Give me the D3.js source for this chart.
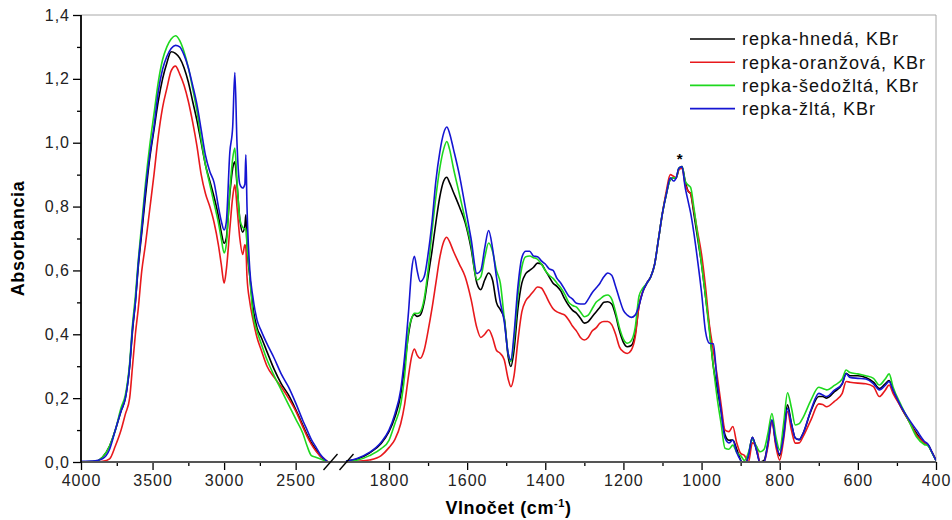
<!DOCTYPE html>
<html>
<head>
<meta charset="utf-8">
<script src="https://cdn.jsdelivr.net/npm/d3@7"></script>
<style>
  body { margin: 0; background: #fff; }
  svg { font-family: "Liberation Sans", Arial, sans-serif; }
</style>
</head>
<body>
<script>
// wavenumbers (cm-1) of the two segments of the broken axis
const leftWn = [4000, 3900, 3850, 3800, 3760, 3720, 3690, 3660, 3640, 3620, 3600, 3575, 3550, 3520, 3490, 3460, 3430, 3400, 3370, 3340,
    3310, 3280, 3250, 3220, 3190, 3160, 3130, 3100, 3070, 3040, 3020, 3000, 2985, 2960, 2940, 2925, 2910, 2890, 2870, 2855,
    2848, 2840, 2820, 2800, 2770, 2740, 2700, 2650, 2600, 2550, 2500, 2450, 2420, 2390, 2360, 2330, 2300, 2270, 2260];

const rightWn = [1910, 1880, 1850, 1820, 1800, 1785, 1770, 1760, 1750, 1742,
    1735, 1728, 1720, 1710, 1700, 1690, 1680, 1670, 1660, 1652,
    1645, 1635, 1620, 1605, 1590, 1575, 1565, 1555, 1545, 1535,
    1525, 1515, 1505, 1495, 1488, 1480, 1470, 1460, 1450, 1440,
    1430, 1420, 1410, 1400, 1390, 1380, 1370, 1360, 1350, 1340,
    1330, 1320, 1310, 1300, 1290, 1280, 1270, 1260, 1250, 1240,
    1230, 1220, 1210, 1200, 1190, 1180, 1170, 1160, 1150, 1140,
    1130, 1120, 1110, 1100, 1090, 1080, 1072, 1065, 1058, 1050,
    1042, 1035, 1028, 1020, 1010, 1000, 990, 980, 970, 960,
    950, 940, 930, 920, 910, 900, 890, 880, 870, 860,
    850, 840, 830, 820, 810, 800, 790, 780, 770, 760,
    750, 740, 720, 700, 690, 680, 660, 640, 630, 620,
    600, 580, 560, 545, 530, 520, 510, 490, 470, 450,
    430, 420, 410, 400];

// absorbance, repka-hnedá
const hnedaLeft = [0, 0.002, 0.015, 0.05, 0.1, 0.16, 0.2, 0.3, 0.41, 0.5, 0.61, 0.72, 0.83, 0.95, 1.04, 1.13, 1.2, 1.25, 1.285, 1.28,
    1.265, 1.235, 1.19, 1.13, 1.07, 1.0, 0.93, 0.88, 0.83, 0.77, 0.72, 0.685, 0.7, 0.84, 0.92, 0.94, 0.87, 0.76, 0.72, 0.74,
    0.774, 0.68, 0.58, 0.49, 0.42, 0.39, 0.345, 0.29, 0.245, 0.21, 0.165, 0.115, 0.085, 0.06, 0.04, 0.02, 0.008, 0, 0];
const hnedaRight = [0.003, 0.01, 0.028, 0.058, 0.095, 0.14, 0.21, 0.3, 0.4, 0.45,
    0.462, 0.456, 0.46, 0.5, 0.58, 0.66, 0.75, 0.83, 0.88, 0.892,
    0.875, 0.845, 0.8, 0.75, 0.67, 0.56, 0.54, 0.57, 0.592, 0.57,
    0.5, 0.477, 0.45, 0.33, 0.299, 0.35, 0.48, 0.56, 0.59, 0.6,
    0.61, 0.623, 0.62, 0.6, 0.58, 0.56, 0.55, 0.535, 0.51, 0.49,
    0.475, 0.466, 0.45, 0.435, 0.44, 0.455, 0.47, 0.485, 0.5, 0.502,
    0.495, 0.46, 0.41, 0.375, 0.361, 0.365, 0.4, 0.49, 0.535, 0.56,
    0.58, 0.62, 0.7, 0.78, 0.84, 0.885, 0.89, 0.89, 0.92, 0.925,
    0.88, 0.85, 0.84, 0.78, 0.7, 0.62, 0.52, 0.42, 0.3, 0.23,
    0.16, 0.085, 0.068, 0.069, 0.04, 0.006, -0.01, 0.02, 0.077, 0.04,
    0.0, 0.005, 0.06, 0.13, 0.06, 0.02, 0.09, 0.179, 0.12, 0.075,
    0.07, 0.09, 0.16, 0.205, 0.205, 0.2, 0.22, 0.245, 0.278, 0.27,
    0.27, 0.265, 0.25, 0.23, 0.245, 0.255, 0.225, 0.173, 0.13, 0.09,
    0.06, 0.053, 0.03, 0.005];

// repka-oranžová
const oranzovaLeft = [0, 0, 0.002, 0.01, 0.05, 0.1, 0.15, 0.2, 0.3, 0.4, 0.48, 0.6, 0.68, 0.79, 0.9, 1.02, 1.11, 1.17, 1.225, 1.24,
    1.215, 1.18, 1.13, 1.065, 0.99, 0.9, 0.84, 0.8, 0.75, 0.68, 0.62, 0.56, 0.6, 0.73, 0.83, 0.868, 0.8, 0.7, 0.65, 0.68,
    0.67, 0.58, 0.5, 0.45, 0.39, 0.35, 0.3, 0.265, 0.235, 0.2, 0.16, 0.11, 0.08, 0.055, 0.035, 0.02, 0.01, 0, 0];
const oranzovaRight = [0, 0.002, 0.006, 0.02, 0.045, 0.07, 0.12, 0.18, 0.27, 0.33,
    0.354, 0.335, 0.325, 0.35, 0.41, 0.48, 0.56, 0.64, 0.69, 0.704,
    0.69, 0.66, 0.62, 0.58, 0.51, 0.42, 0.39, 0.4, 0.414, 0.39,
    0.35, 0.34, 0.32, 0.26, 0.236, 0.27, 0.38, 0.47, 0.505, 0.52,
    0.535, 0.548, 0.545, 0.525, 0.5, 0.48, 0.47, 0.465, 0.46, 0.445,
    0.425, 0.41, 0.39, 0.382, 0.39, 0.41, 0.42, 0.435, 0.44, 0.44,
    0.43, 0.4, 0.36, 0.345, 0.34, 0.35, 0.39, 0.49, 0.535, 0.56,
    0.58, 0.62, 0.7, 0.78, 0.85, 0.9, 0.895, 0.89, 0.915, 0.92,
    0.87, 0.85, 0.84, 0.79, 0.72, 0.65, 0.55, 0.43, 0.35, 0.27,
    0.18, 0.1, 0.095, 0.111, 0.06, 0.027, 0.02, 0.0, 0.06, 0.05,
    -0.005, 0.0, 0.05, 0.126, 0.05, 0.006, 0.07, 0.158, 0.1, 0.059,
    0.06, 0.08, 0.132, 0.182, 0.18, 0.173, 0.19, 0.215, 0.252, 0.25,
    0.247, 0.245, 0.236, 0.205, 0.225, 0.241, 0.215, 0.173, 0.13, 0.085,
    0.06, 0.052, 0.03, 0.005];

// repka-šedožltá
const sedozltaLeft = [0, 0.002, 0.015, 0.05, 0.1, 0.17, 0.21, 0.31, 0.43, 0.52, 0.63, 0.75, 0.87, 0.99, 1.09, 1.19, 1.26, 1.3, 1.325, 1.335,
    1.32, 1.285, 1.235, 1.17, 1.1, 1.01, 0.93, 0.87, 0.81, 0.75, 0.7, 0.655, 0.68, 0.85, 0.95, 0.983, 0.88, 0.76, 0.735, 0.73,
    0.73, 0.68, 0.58, 0.47, 0.41, 0.37, 0.32, 0.27, 0.225, 0.18, 0.135, 0.09, 0.05, 0.02, 0.015, 0.01, 0.005, 0, 0];
const sedozltaRight = [0.002, 0.006, 0.02, 0.042, 0.068, 0.12, 0.18, 0.27, 0.41, 0.45,
    0.466, 0.465, 0.47, 0.51, 0.6, 0.72, 0.83, 0.92, 0.98, 1.004,
    0.98, 0.92, 0.84, 0.76, 0.68, 0.57, 0.58, 0.64, 0.686, 0.66,
    0.6, 0.56, 0.45, 0.34, 0.315, 0.38, 0.52, 0.61, 0.643, 0.645,
    0.64, 0.635, 0.62, 0.6, 0.585, 0.575, 0.56, 0.545, 0.525, 0.5,
    0.49, 0.485, 0.47, 0.455, 0.46, 0.48, 0.5, 0.51, 0.52, 0.523,
    0.51, 0.47, 0.42, 0.385, 0.372, 0.38, 0.42, 0.52, 0.545, 0.56,
    0.58, 0.62, 0.7, 0.78, 0.84, 0.885, 0.89, 0.89, 0.92, 0.925,
    0.88, 0.868, 0.86, 0.8, 0.71, 0.62, 0.52, 0.41, 0.3, 0.2,
    0.12, 0.043, 0.04, 0.053, 0.03, 0.02, 0.005, 0.03, 0.07, 0.05,
    0.032, 0.04, 0.09, 0.152, 0.08, 0.038, 0.12, 0.217, 0.17, 0.116,
    0.12, 0.14, 0.194, 0.234, 0.23, 0.226, 0.24, 0.26, 0.288, 0.28,
    0.276, 0.27, 0.262, 0.241, 0.26, 0.276, 0.235, 0.18, 0.13, 0.079,
    0.055, 0.05, 0.028, 0.005];

// repka-žltá
const zltaLeft = [0.002, 0.004, 0.01, 0.04, 0.1, 0.16, 0.2, 0.3, 0.42, 0.5, 0.62, 0.73, 0.85, 0.96, 1.05, 1.16, 1.23, 1.27, 1.295, 1.305,
    1.3, 1.275, 1.235, 1.18, 1.12, 1.04, 0.96, 0.91, 0.875, 0.8, 0.755, 0.727, 0.75, 0.97, 1.05, 1.22, 1.0, 0.87, 0.858, 0.87,
    0.962, 0.8, 0.6, 0.52, 0.445, 0.41, 0.37, 0.325, 0.275, 0.235, 0.185, 0.13, 0.1, 0.07, 0.048, 0.025, 0.01, 0, 0];
const zltaRight = [0.003, 0.012, 0.03, 0.062, 0.1, 0.15, 0.226, 0.33, 0.47, 0.6,
    0.644, 0.6, 0.565, 0.58, 0.65, 0.75, 0.88, 0.97, 1.03, 1.049,
    1.03, 0.98, 0.9, 0.8, 0.7, 0.59, 0.6, 0.67, 0.725, 0.67,
    0.58, 0.5, 0.44, 0.34, 0.32, 0.4, 0.55, 0.64, 0.66, 0.66,
    0.645, 0.643, 0.63, 0.62, 0.605, 0.6, 0.575, 0.56, 0.54, 0.52,
    0.51, 0.497, 0.495, 0.495, 0.51, 0.53, 0.545, 0.56, 0.58, 0.592,
    0.585, 0.55, 0.51, 0.475, 0.46, 0.453, 0.46, 0.49, 0.535, 0.56,
    0.58, 0.62, 0.7, 0.78, 0.84, 0.89, 0.88, 0.89, 0.92, 0.925,
    0.86, 0.82, 0.78, 0.72, 0.63, 0.53, 0.41, 0.372, 0.37, 0.25,
    0.16, 0.075, 0.06, 0.068, 0.03, 0.005, -0.01, 0.02, 0.077, 0.04,
    -0.005, 0.0, 0.06, 0.132, 0.06, 0.025, 0.08, 0.168, 0.12, 0.075,
    0.07, 0.09, 0.163, 0.215, 0.21, 0.205, 0.225, 0.245, 0.276, 0.265,
    0.262, 0.26, 0.245, 0.226, 0.24, 0.252, 0.225, 0.175, 0.135, 0.1,
    0.065, 0.055, 0.03, 0.005];

const seriesNames = ['repka-hnedá, KBr', 'repka-oranžová, KBr', 'repka-šedožltá, KBr', 'repka-žltá, KBr'];
const seriesColors = ['#000000', '#e8191c', '#1ed81e', '#1515d2'];

const yTicks = [0, 0.2, 0.4, 0.6, 0.8, 1.0, 1.2, 1.4];
const yMinorTicks = [0.1, 0.3, 0.5, 0.7, 0.9, 1.1, 1.3];
const leftTicks = [4000, 3500, 3000, 2500];
const leftMinorTicks = [3750, 3250, 2750];
const rightTicks = [1800, 1600, 1400, 1200, 1000, 800, 600, 400];
const rightMinorTicks = [1700, 1500, 1300, 1100, 900, 700, 500];

const series = seriesNames.map((name, i) => ({
    name: name,
    color: seriesColors[i],
    left: leftWn.map((w, j) => ({ w: w, a: [hnedaLeft, oranzovaLeft, sedozltaLeft, zltaLeft][i][j] })),
    right: rightWn.map((w, j) => ({ w: w, a: [hnedaRight, oranzovaRight, sedozltaRight, zltaRight][i][j] }))
}));

const W = 952, H = 520;
const margin = { top: 15, right: 16, bottom: 58, left: 81 };
const width = W - margin.left - margin.right;
const height = H - margin.top - margin.bottom;

// broken x axis: two linear scales side by side
const xLeft = d3.scaleLinear().domain([4000, 2260]).range([0, 249]);
const xRight = d3.scaleLinear().domain([1910, 400]).range([265, width]);
const y = d3.scaleLinear().domain([0, 1.4]).range([height, 0]);

const fmt = d => d.toFixed(1).replace('.', ',');

const svg = d3.select('body').append('svg')
    .attr('width', W)
    .attr('height', H);

svg.append('defs').append('clipPath')
    .attr('id', 'plot-clip')
    .append('rect')
    .attr('width', width)
    .attr('height', height);

const g = svg.append('g')
    .attr('transform', `translate(${margin.left},${margin.top})`);

// frame (top + right in grey)
g.append('path')
    .attr('d', `M0,0H${width}V${height}`)
    .attr('fill', 'none')
    .attr('stroke', '#a8a8a8')
    .attr('stroke-width', 1);

// curves
const lineFor = (x) => d3.line()
    .x(d => x(d.w))
    .y(d => y(d.a))
    .curve(d3.curveMonotoneX);

const curves = g.append('g').attr('clip-path', 'url(#plot-clip)');

series.forEach(s => {
    curves.append('path')
        .datum(s.left)
        .attr('d', lineFor(xLeft))
        .attr('fill', 'none')
        .attr('stroke', s.color)
        .attr('stroke-width', 1.6);
    curves.append('path')
        .datum(s.right)
        .attr('d', lineFor(xRight))
        .attr('fill', 'none')
        .attr('stroke', s.color)
        .attr('stroke-width', 1.6);
});

// axes
const styleAxis = (sel) => {
    sel.select('.domain').remove();
    sel.selectAll('.tick line').attr('stroke', '#000').attr('stroke-width', 1.3);
    sel.selectAll('.tick text')
        .attr('fill', '#222')
        .style('font-size', '16px')
        .style('letter-spacing', '1px')
        .style('font-family', '"Liberation Sans", Arial, sans-serif');
};

g.append('g')
    .call(d3.axisLeft(y).tickValues(yTicks).tickFormat(fmt).tickSize(8).tickPadding(3))
    .call(styleAxis);
g.append('g')
    .call(d3.axisLeft(y).tickValues(yMinorTicks).tickFormat('').tickSize(4))
    .call(styleAxis);

// x axes, one per segment
const bottom = g.append('g').attr('transform', `translate(0,${height})`);
[[xLeft, leftTicks, leftMinorTicks], [xRight, rightTicks, rightMinorTicks]].forEach(([x, major, minor]) => {
    bottom.append('g')
        .call(d3.axisBottom(x).tickValues(major).tickFormat(d3.format('d')).tickSize(8).tickPadding(5))
        .call(styleAxis);
    bottom.append('g')
        .call(d3.axisBottom(x).tickValues(minor).tickFormat('').tickSize(4))
        .call(styleAxis);
});

bottom.append('line')
    .attr('x1', 0).attr('x2', width)
    .attr('stroke', '#555')
    .attr('stroke-width', 2);

g.append('line')
    .attr('y1', 0).attr('y2', height + 1)
    .attr('stroke', '#000')
    .attr('stroke-width', 1.8);

// break marks
[xLeft.range()[1] + 0.5, xRight.range()[0] + 0.5].forEach(cx => {
    bottom.append('line')
        .attr('x1', cx - 7).attr('y1', 8)
        .attr('x2', cx + 7).attr('y2', -8)
        .attr('stroke', '#000')
        .attr('stroke-width', 1.3);
});

// asterisk over the 1056 band
g.append('text')
    .attr('x', xRight(1056))
    .attr('y', y(0.924) - 3)
    .attr('text-anchor', 'middle')
    .style('font-size', '15px')
    .style('font-weight', 'bold')
    .text('*');

// axis titles
svg.append('text')
    .attr('transform', `translate(24,${margin.top + height / 2}) rotate(-90)`)
    .attr('text-anchor', 'middle')
    .style('font-size', '18px')
    .style('letter-spacing', '0.6px')
    .style('font-weight', 'bold')
    .text('Absorbancia');

const xTitle = svg.append('text')
    .attr('x', margin.left + width / 2)
    .attr('y', 514)
    .attr('text-anchor', 'middle')
    .style('font-size', '18px')
    .style('letter-spacing', '0.6px')
    .style('font-weight', 'bold');
xTitle.append('tspan').text('Vlnočet (cm');
xTitle.append('tspan').attr('dy', -7).style('font-size', '11px').text('-1');
xTitle.append('tspan').attr('dy', 7).text(')');

// legend
const legend = svg.append('g').attr('transform', 'translate(690,39)');
series.forEach((s, i) => {
    const row = legend.append('g').attr('transform', `translate(0,${i * 23.2})`);
    row.append('line')
        .attr('x1', 0).attr('x2', 45)
        .attr('stroke', s.color)
        .attr('stroke-width', 1.6);
    row.append('text')
        .attr('x', 52)
        .attr('dy', '0.35em')
        .style('font-size', '18px')
        .style('letter-spacing', '1px')
        .attr('fill', '#111')
        .text(s.name);
});
</script>
</body>
</html>
